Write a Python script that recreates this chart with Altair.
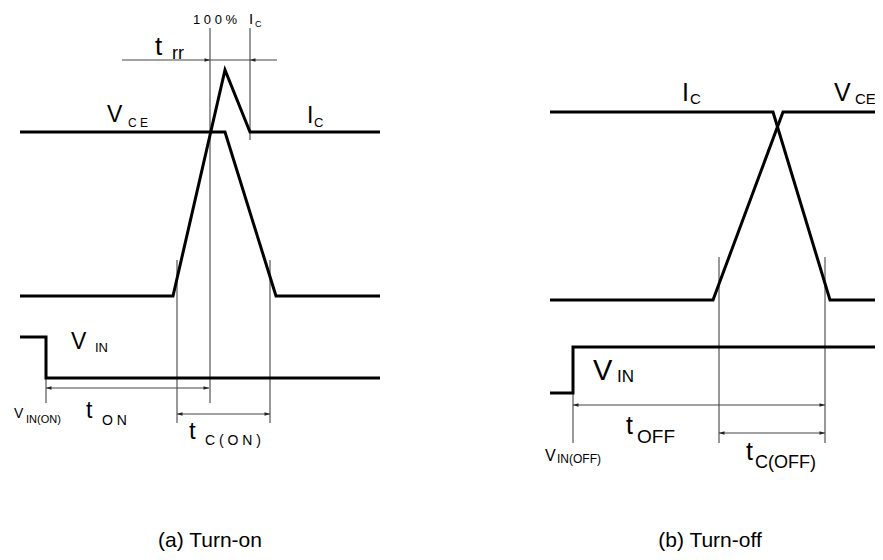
import altair as alt
import pandas as pd

# ---- waveform vertices (time position, level position) ----
A_VCE_T = [20, 225, 276, 380]
A_VCE_L = [132, 132, 296, 296]
A_IC_T = [20, 173, 225, 250, 380]
A_IC_L = [296, 296, 70, 132, 132]
A_VIN_T = [20, 46, 46, 380]
A_VIN_L = [337, 337, 378, 378]
B_IC_T = [550, 773, 830, 878]
B_IC_L = [112, 112, 300, 300]
B_VCE_T = [550, 713, 783, 878]
B_VCE_L = [300, 300, 112, 112]
B_VIN_T = [550, 573, 573, 878]
B_VIN_L = [393, 393, 347, 347]

# ---- timing marker lines (time, from level, to level) ----
MARK_T = [210, 250, 177, 270, 46, 719, 825, 573]
MARK_L1 = [28, 28, 260, 260, 378, 257, 257, 393]
MARK_L2 = [403, 140, 423, 423, 403, 443, 443, 443]

# ---- dimension arrows (start, end, level) ----
DIM_NAMES = ["trr", "tON", "tC(ON)", "tOFF", "tC(OFF)"]
DIM_T1 = [122, 46, 177, 573, 719]
DIM_T2 = [277, 209, 270, 825, 825]
DIM_L = [60, 388, 414, 405, 433]
# arrow tips
TIP_R_T = [210, 209, 270, 825, 825]
TIP_R_L = [60, 388, 414, 405, 433]
TIP_L_T = [250, 46, 177, 573, 719]
TIP_L_L = [60, 388, 414, 405, 433]

# ---- labels ----
LBL_TEXT = ["1 0 0 %", "I", "C", "t", "rr", "V", "C E", "I", "C", "V", "IN",
            "V", "IN(ON)", "t", "O N", "t", "C ( O N )",
            "I", "C", "V", "CE", "V", "IN", "t", "OFF", "V", "IN(OFF)", "t", "C(OFF)"]
LBL_T = [193, 249, 255, 155, 172, 107, 128, 307, 314, 71, 95,
         14, 26, 86, 102, 189, 205,
         682, 690, 834, 855, 593, 617, 626, 637, 545, 557, 746, 755]
LBL_L = [24, 24, 27, 55, 59, 122, 127, 123, 127, 349, 352,
         418, 423, 418, 425, 439, 445,
         101, 104, 101, 104, 380, 382, 434, 443, 461, 463, 460, 468]
LBL_SIZE = [13, 15, 9, 26, 18, 23, 12, 23, 13, 23, 13,
            14, 11, 23, 14, 24, 14,
            25, 15, 25, 15, 29, 17, 25, 19, 16, 12, 25, 18]

CAPTIONS = ["(a) Turn-on", "(b) Turn-off"]
CAP_T = [210, 710]
CAP_L = [547, 547]

# ---- build tables ----
rows = []
for name, ts, ls in [("a_vce", A_VCE_T, A_VCE_L), ("a_ic", A_IC_T, A_IC_L),
                     ("a_vin", A_VIN_T, A_VIN_L), ("b_ic", B_IC_T, B_IC_L),
                     ("b_vce", B_VCE_T, B_VCE_L), ("b_vin", B_VIN_T, B_VIN_L)]:
    for i, (t, l) in enumerate(zip(ts, ls)):
        rows.append({"series": name, "i": i, "x": t, "y": l})
wave = pd.DataFrame(rows)
marks = pd.DataFrame({"x": MARK_T, "y": MARK_L1, "y2": MARK_L2})
dims = pd.DataFrame({"name": DIM_NAMES, "x": DIM_T1, "x2": DIM_T2, "y": DIM_L})
tipr = pd.DataFrame({"x": TIP_R_T, "y": TIP_R_L})
tipl = pd.DataFrame({"x": TIP_L_T, "y": TIP_L_L})
labels = pd.DataFrame({"x": LBL_T, "y": LBL_L, "text": LBL_TEXT, "size": LBL_SIZE})
caps = pd.DataFrame({"x": CAP_T, "y": CAP_L, "text": CAPTIONS})

XS = alt.Scale(domain=[8, 875], nice=False, zero=False)
YS = alt.Scale(domain=[8, 552], nice=False, zero=False, reverse=True)
X = alt.X("x:Q", scale=XS, axis=None)
Y = alt.Y("y:Q", scale=YS, axis=None)

waves = alt.Chart(wave).mark_line(color="black", strokeWidth=3, strokeJoin="miter").encode(
    x=X, y=Y, detail="series:N", order="i:Q")

vlines = alt.Chart(marks).mark_rule(color="#333333", strokeWidth=1).encode(
    x=X, y=Y, y2="y2:Q")

dimlines = alt.Chart(dims).mark_rule(color="#444444", strokeWidth=1).encode(
    x=X, x2="x2:Q", y=Y)

arr_r = alt.Chart(tipr).mark_point(shape="M0,0L-2,-0.6L-2,0.6Z", filled=True, size=30,
                                   color="#222222", opacity=1).encode(x=X, y=Y)
arr_l = alt.Chart(tipl).mark_point(shape="M0,0L2,-0.6L2,0.6Z", filled=True, size=30,
                                   color="#222222", opacity=1).encode(x=X, y=Y)

texts = alt.Chart(labels).mark_text(align="left", baseline="alphabetic",
                                    font="Liberation Sans", color="black").encode(
    x=X, y=Y, text="text:N", size=alt.Size("size:Q", scale=None))

captions = alt.Chart(caps).mark_text(align="center", baseline="alphabetic",
                                     font="Liberation Sans", fontSize=21, color="black").encode(
    x=X, y=Y, text="text:N")

chart = alt.layer(vlines, dimlines, arr_r, arr_l, waves, texts, captions).properties(
    width=867, height=544, padding=0,
    autosize=alt.AutoSizeParams(type="none"),
).configure_view(stroke=None)

chart.save("out.html", embed_options={"renderer": "svg", "actions": False})
